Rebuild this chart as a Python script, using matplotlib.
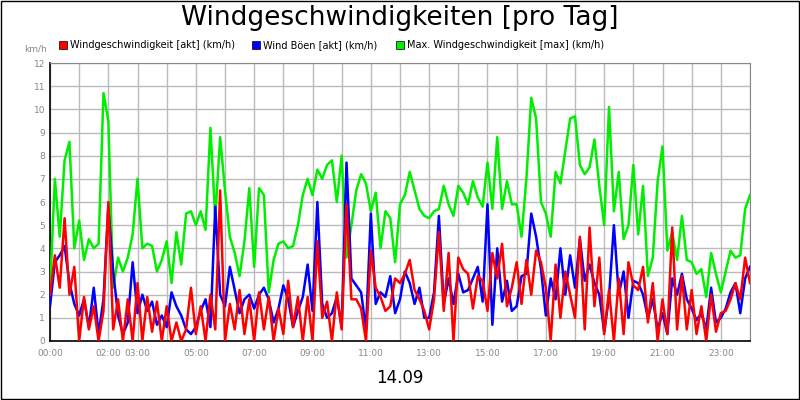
import numpy as np
import matplotlib
matplotlib.use("Agg")
import matplotlib.pyplot as plt

title = "Windgeschwindigkeiten [pro Tag]"
series_names = ["Windgeschwindigkeit [akt] (km/h)", "Wind Böen [akt] (km/h)", "Max. Windgeschwindigkeit [max] (km/h)"]
tick_hours = [0, 2, 3, 5, 7, 9, 11, 13, 15, 17, 19, 21, 23]
tick_labels = ["00:00", "02:00", "03:00", "05:00", "07:00", "09:00", "11:00", "13:00", "15:00", "17:00", "19:00", "21:00", "23:00"]
date_label = "14.09"

max_speed = [2.2, 7.0, 4.5, 7.8, 8.6, 4.0,
             5.2, 3.5, 4.4, 4.0, 4.2, 10.7,
             9.5, 2.3, 3.6, 3.0, 3.6, 4.6,
             7.0, 4.0, 4.2, 4.1, 3.0, 3.5,
             4.3, 2.5, 4.7, 3.3, 5.5, 5.6,
             5.0, 5.6, 4.8, 9.2, 5.3, 8.8,
             6.5, 4.5, 3.8, 2.8, 4.3, 6.6,
             3.2, 6.6, 6.3, 2.1, 3.5, 4.2,
             4.3, 4.0, 4.1, 5.0, 6.3, 7.0,
             6.3, 7.4, 7.0, 7.6, 7.8, 6.0,
             8.0, 3.6, 5.0, 6.5, 7.2, 6.8,
             5.6, 6.4, 4.0, 5.6, 5.3, 3.4,
             5.9, 6.3, 7.3, 6.5, 5.7, 5.4,
             5.3, 5.6, 5.7, 6.7, 5.9, 5.4,
             6.7, 6.4, 5.9, 6.9, 6.2, 5.8,
             7.7, 5.7, 8.8, 5.7, 6.9, 5.9,
             5.9, 4.5, 7.0, 10.5, 9.6, 6.0,
             5.5, 4.5, 7.3, 6.8, 8.2, 9.6,
             9.7, 7.6, 7.2, 7.5, 8.7, 6.7,
             5.0, 10.1, 5.6, 7.3, 4.4, 5.0,
             7.6, 4.6, 6.7, 2.8, 3.6, 6.9,
             8.4, 3.9, 4.7, 3.5, 5.4, 3.5,
             3.4, 2.9, 3.1, 1.9, 3.8, 2.9,
             2.1, 3.0, 3.9, 3.6, 3.7, 5.7, 6.3]

speed = [2.0, 3.7, 2.3, 5.3, 2.0, 3.2,
         0, 1.9, 0.5, 1.5, 0, 1.3,
         6.0, 0.5, 1.8, 0, 1.8, 0,
         2.5, 0, 1.9, 0.4, 1.7, 0,
         1.5, 0, 0.8, 0, 0.5, 2.3,
         0.3, 1.5, 0, 2.0, 0.5, 6.5,
         0, 1.6, 0.5, 2.2, 0.3, 1.8,
         0, 2.1, 0.5, 1.9, 0, 1.4,
         0.3, 2.6, 0.6, 1.9, 0, 1.9,
         0, 4.3, 1.0, 1.7, 0, 2.1,
         0.5, 5.9, 1.8, 1.8, 1.4, 0,
         3.9, 2.3, 1.9, 1.3, 1.5, 2.7,
         2.5, 2.9, 3.5, 2.2, 1.8, 1.3,
         0.5, 1.8, 4.7, 1.3, 3.8, 0,
         3.6, 3.1, 2.9, 1.4, 2.8, 2.6,
         1.3, 3.8, 2.7, 4.2, 1.5, 2.3,
         3.4, 1.6, 3.5, 2.0, 3.9, 3.4,
         2.3, 0, 3.3, 1.0, 3.0, 2.0,
         1.0, 4.5, 0.5, 4.9, 1.5, 3.6,
         0.3, 2.2, 0, 2.7, 0.3, 3.4,
         2.4, 2.2, 3.2, 0.8, 2.5, 0,
         1.8, 0.3, 4.9, 0.5, 2.8, 0.5,
         2.2, 0.3, 1.5, 0, 2.0, 0.4,
         1.2, 1.3, 1.8, 2.5, 1.8, 3.6, 2.5]

gusts = [1.5, 3.4, 3.7, 4.1, 2.5, 1.6,
         1.1, 1.8, 0.6, 2.3, 0.3, 1.8,
         5.8, 3.0, 1.1, 0.3, 0.8, 3.4,
         1.2, 2.0, 1.3, 1.7, 0.7, 1.1,
         0.6, 2.1, 1.5, 1.1, 0.5, 0.3,
         0.6, 1.3, 1.8, 0.6, 5.8, 2.0,
         1.5, 3.2, 2.2, 1.2, 1.8, 2.0,
         1.4, 2.0, 2.3, 1.8, 0.8, 1.4,
         2.4, 1.8, 0.6, 1.3, 1.9, 3.3,
         1.3, 6.0, 1.6, 1.0, 1.2, 1.9,
         0.6, 7.7, 2.7, 2.4, 2.1, 0.5,
         5.5, 1.6, 2.1, 1.9, 2.8, 1.2,
         1.8, 3.0, 2.5, 1.6, 2.3, 1.0,
         1.0, 2.1, 5.4, 1.6, 2.7, 1.6,
         2.9, 2.1, 2.2, 2.7, 3.2, 1.7,
         5.9, 0.7, 4.0, 1.7, 2.6, 1.3,
         1.5, 2.8, 2.9, 5.5, 4.5, 3.1,
         1.1, 2.7, 1.8, 4.0, 2.0, 3.7,
         2.3, 4.4, 2.6, 3.3, 2.5, 2.0,
         0.4, 1.9, 5.0, 2.0, 3.0, 1.0,
         2.6, 2.5, 2.0, 1.0, 1.8, 0.5,
         1.2, 0.3, 2.7, 2.0, 2.9, 1.8,
         1.4, 0.9, 1.2, 0.5, 2.3, 0.8,
         1.0, 1.4, 2.1, 2.5, 1.2, 2.7, 3.2]

hours = np.linspace(0, 24, len(max_speed))

fig = plt.figure(figsize=(8, 4), dpi=100)
fig.patch.set_facecolor("white")
ax = fig.add_axes([0.0625, 0.1475, 0.875, 0.695])
ax.plot(hours, max_speed, color="#00ee00", lw=1.8, zorder=3)
ax.plot(hours, gusts, color="#0000ff", lw=1.8, zorder=4)
ax.plot(hours, speed, color="#ff0000", lw=1.8, zorder=5)

ax.set_xlim(0, 24)
ax.set_ylim(0, 12)
ax.set_yticks(range(0, 13))
ax.set_xticks(tick_hours)
ax.set_xticklabels(tick_labels)
ax.set_xticks(range(0, 25), minor=True)
ax.grid(True, which="both", color="#bbbbbb", lw=1)
ax.tick_params(axis="both", which="both", length=0, labelsize=6.5, labelcolor="#888888")
ax.tick_params(axis="x", pad=6)
for s in ["top", "right"]:
    ax.spines[s].set_color("#888888")
    ax.spines[s].set_linewidth(0.8)
for s in ["left", "bottom"]:
    ax.spines[s].set_color("black")
    ax.spines[s].set_linewidth(1.2)

fig.text(0.5, 0.955, title, ha="center", va="center", fontsize=19)
fig.text(0.03, 0.878, "km/h", ha="left", va="center", fontsize=6.5, color="#888888")
fig.text(0.5, 0.055, date_label, ha="center", va="center", fontsize=12)

leg_x = [0.074, 0.315, 0.495]
colors = ["#ff0000", "#0000ff", "#00ee00"]
for x, c, n in zip(leg_x, colors, series_names):
    fig.patches.append(plt.Rectangle((x, 0.878), 0.01, 0.02, transform=fig.transFigure,
                                     facecolor=c, edgecolor="black", lw=0.5))
    fig.text(x + 0.014, 0.888, n, ha="left", va="center", fontsize=7)

fig.patches.append(plt.Rectangle((0.001, 0.002), 0.998, 0.996, transform=fig.transFigure,
                                 fill=False, edgecolor="black", lw=1))
fig.savefig("out.png", dpi=100)
